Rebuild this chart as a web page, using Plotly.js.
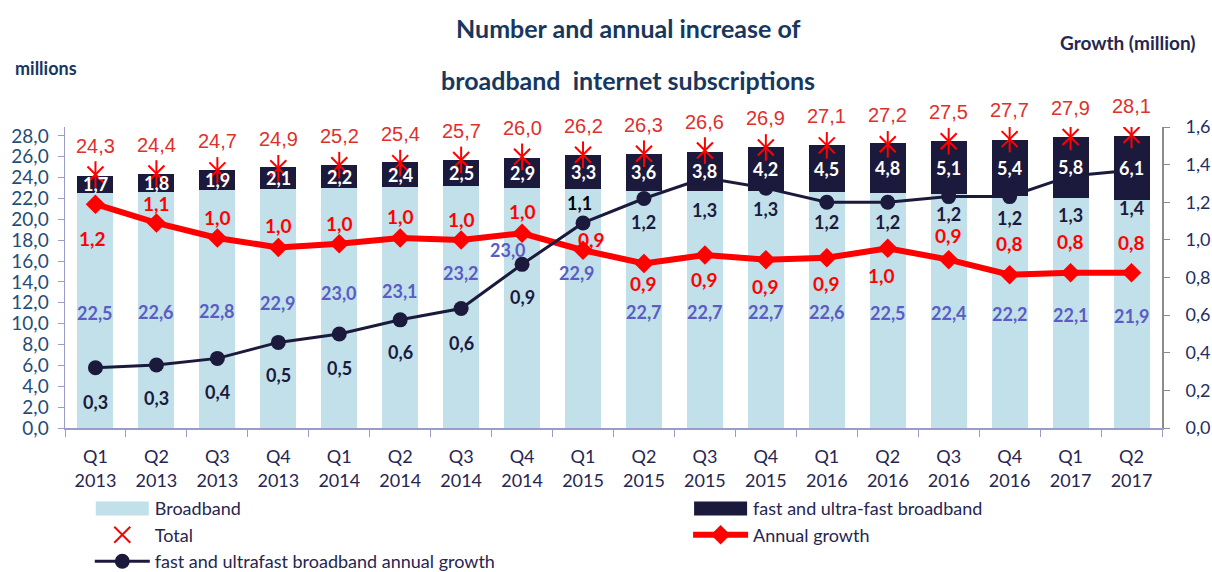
<!DOCTYPE html>
<html><head><meta charset="utf-8">
<script src="https://cdn.plot.ly/plotly-3.0.1.min.js"></script>
<style>html,body{margin:0;padding:0;background:#fff}#chart{width:1212px;height:572px}</style>
</head><body><div id="chart"></div>
<script>
// ---- data ----
const quarters = ['Q1','Q2','Q3','Q4','Q1','Q2','Q3','Q4','Q1','Q2','Q3','Q4','Q1','Q2','Q3','Q4','Q1','Q2'];
const years = ['2013','2013','2013','2013','2014','2014','2014','2014','2015','2015','2015','2015','2016','2016','2016','2016','2017','2017'];
const broadband = [22.5,22.6,22.8,22.9,23.0,23.1,23.2,23.0,22.9,22.7,22.7,22.7,22.6,22.5,22.4,22.2,22.1,21.9];
const fastUltra = [1.7,1.8,1.9,2.1,2.2,2.4,2.5,2.9,3.3,3.6,3.8,4.2,4.5,4.8,5.1,5.4,5.8,6.1];
const total = [24.3,24.4,24.7,24.9,25.2,25.4,25.7,26.0,26.2,26.3,26.6,26.9,27.1,27.2,27.5,27.7,27.9,28.1];
const annualGrowth = [1.19,1.09,1.01,0.96,0.98,1.01,1.0,1.035,0.945,0.875,0.92,0.895,0.905,0.955,0.895,0.815,0.825,0.825];
const fastGrowth = [0.32,0.335,0.37,0.455,0.5,0.575,0.635,0.87,1.09,1.22,1.33,1.275,1.2,1.2,1.23,1.23,1.34,1.37];

// ---- label placement (pixel offsets, styling only) ----
const bbShiftY = [-2,-2,-2,6,15,17,34,58,36,-2,-2,-2,-2,-2,-2,-2,-2,-2];
const bbShiftX = [0,0,0,0,0,0,0,-14,-6,0,0,0,0,0,0,0,0,0];
const agShiftY = [-34,19,20,22,20,21,20,22,11,-20,-25,-27,-26,-27,24,31,31,30];
const agShiftX = [-3,0,0,0,0,0,0,0,8,0,0,0,0,-6,0,0,0,0];
const fgShiftY = [-34,-33,-34,-33,-34,-32,-34,-33,20,-24,-32,-21,-20,-20,-17,-21,-39,-38];
const fgShiftX = [0,0,0,0,0,0,0,0,-4,0,0,0,0,0,0,0,0,0];

const cats = quarters.map((q,i)=>q+'<br>'+years[i]);
const fmt = v => v.toFixed(1).replace('.', ',');
const CAL = 'Lato, "Open Sans", sans-serif';
const navy = '#1c1a3c';
const red = '#ff0000';

const traces = [
  {type:'bar', name:'Broadband', x:cats, y:broadband, marker:{color:'#c2e0ea'}, legend:'legend', hoverinfo:'y'},
  {type:'bar', name:'fast and ultra-fast broadband', x:cats, y:fastUltra, marker:{color:navy}, legend:'legend2', hoverinfo:'y'},
  {type:'scatter', mode:'markers', name:'Total', x:cats, y:total,
   marker:{symbol:'x-thin-open', size:16, line:{color:red, width:2}, color:red}, legend:'legend'},
  {type:'scatter', mode:'markers', name:'Total', x:cats, y:total, showlegend:false, hoverinfo:'skip',
   marker:{symbol:'line-ns-open', size:19, line:{color:red, width:2}, color:red}},
  {type:'scatter', mode:'lines+markers', name:'Annual growth', x:cats, y:annualGrowth, yaxis:'y2',
   line:{color:red, width:6}, marker:{symbol:'diamond', size:15, color:red}, legend:'legend2'},
  {type:'scatter', mode:'lines+markers', name:'fast and ultrafast broadband annual growth', x:cats, y:fastGrowth, yaxis:'y2',
   line:{color:navy, width:3}, marker:{symbol:'circle', size:15, color:navy}, legend:'legend'}
];

const ann = [];
cats.forEach((c,i)=>{
  ann.push({x:c, y:broadband[i]/2, xref:'x', yref:'y', text:fmt(broadband[i]), showarrow:false,
    yshift:bbShiftY[i], xshift:bbShiftX[i], font:{family:CAL, size:18, color:'#5b5cc4', weight:'bold'}});
  ann.push({x:c, y:broadband[i] + fastUltra[i]/2, xref:'x', yref:'y', text:fmt(fastUltra[i]), showarrow:false,
    font:{family:CAL, size:18, color:'#ffffff', weight:'bold'}});
  ann.push({x:c, y:total[i], xref:'x', yref:'y', text:fmt(total[i]), showarrow:false, yshift:29,
    font:{family:'"Liberation Sans", Arial, sans-serif', size:20, color:'#e0302c'}});
  ann.push({x:c, y:annualGrowth[i], xref:'x', yref:'y2', text:fmt(annualGrowth[i]), showarrow:false,
    yshift:agShiftY[i], xshift:agShiftX[i], font:{family:CAL, size:19, color:red, weight:'bold'}});
  ann.push({x:c, y:fastGrowth[i], xref:'x', yref:'y2', text:fmt(fastGrowth[i]), showarrow:false,
    yshift:fgShiftY[i], xshift:fgShiftX[i], font:{family:CAL, size:18, color:i===8?'#000000':navy, weight:'bold'}});
});
const paperText = (x, y, text, size, color) => ({xref:'paper', yref:'paper', x:x, y:y, xanchor:'center', yanchor:'middle',
  text:text, showarrow:false, font:{family:CAL, size:size, color:color, weight:'bold'}});
ann.push(paperText(0.513, 1.329, 'Number and annual increase of', 25, '#17375e'));
ann.push(paperText(0.513, 1.156, 'broadband  internet subscriptions', 25, '#17375e'));
ann.push(paperText(-0.017, 1.196, 'millions', 18, '#17375e'));
ann.push(paperText(0.969, 1.282, 'Growth (million)', 19, '#262650'));

const legFont = {family:CAL, size:18, color:'#262650'};
const layout = {
  width:1212, height:572,
  margin:{l:65, r:50, t:127, b:144},
  paper_bgcolor:'#ffffff', plot_bgcolor:'#ffffff',
  separators:', ',
  barmode:'stack', bargap:0.41,
  showlegend:true,
  xaxis:{type:'category', range:[-0.5,17.5], showline:true, linecolor:'#9b9dc9', linewidth:1.5,
    ticks:'outside', tickson:'boundaries', ticklen:7, tickcolor:'#9b9dc9', showgrid:false, ticklabelstandoff:12,
    tickfont:{family:CAL, size:18, color:'#262650'}},
  yaxis:{range:[0,28.86], dtick:2, tick0:0, tickformat:'.1f', showline:true, linecolor:'#9b9dc9', linewidth:1.5,
    ticks:'outside', ticklen:6, tickcolor:'#9b9dc9', showgrid:false, zeroline:false, ticklabelstandoff:5,
    tickfont:{family:CAL, size:19, color:'#1f4e79'}},
  yaxis2:{overlaying:'y', side:'right', range:[0,1.6], dtick:0.2, tick0:0, tickformat:'.1f', showline:true,
    linecolor:'#8c8c8c', linewidth:2, ticks:'outside', ticklen:6, tickcolor:'#8c8c8c', showgrid:false,
    zeroline:false, ticklabelstandoff:12, tickfont:{family:CAL, size:18, color:'#1f2f5f'}},
  legend:{xref:'paper', yref:'container', x:0.0226, y:0.143, xanchor:'left', yanchor:'top', orientation:'v',
    traceorder:'normal', font:legFont, bgcolor:'rgba(0,0,0,0)', tracegroupgap:0, itemwidth:55},
  legend2:{xref:'paper', yref:'container', x:0.568, y:0.143, xanchor:'left', yanchor:'top', orientation:'v',
    traceorder:'normal', font:legFont, bgcolor:'rgba(0,0,0,0)', tracegroupgap:0, itemwidth:55},
  annotations:ann
};
Plotly.newPlot('chart', traces, layout, {displayModeBar:false, staticPlot:true}).then(gd => {
  gd.querySelectorAll('.legendpoints path').forEach(p => {
    const d = p.getAttribute('d') || '';
    if (d.indexOf('M6,6H-6V-6H6Z') === 0) p.setAttribute('d', 'M26.5,7H-26.5V-7H26.5Z');
  });
});
</script>
</body></html>
